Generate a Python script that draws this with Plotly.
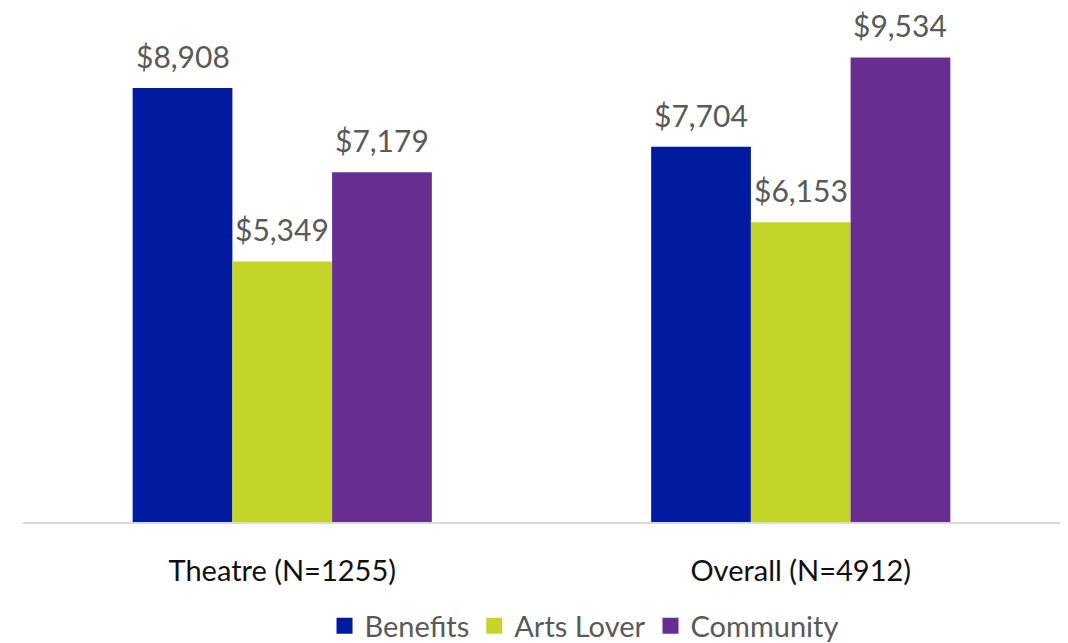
import plotly.graph_objects as go

# ----- Data -----
groups = ["Theatre (N=1255)", "Overall (N=4912)"]
series_names = ["Benefits", "Arts Lover", "Community"]
benefits = [8908, 7704]
arts_lover = [5349, 6153]
community = [7179, 9534]
colors = ["#001AA0", "#C4D52A", "#682D91"]

FONT = "Lato, 'Open Sans', sans-serif"
BARGAP = 0.423
# page has an 8px body margin, so the figure is drawn slightly smaller
W, H = 1052, 635

fig = go.Figure()
all_vals = [benefits, arts_lover, community]
bar_w = (1 - BARGAP) / len(series_names)
for k, (name, vals, col) in enumerate(zip(series_names, all_vals, colors)):
    fig.add_trace(go.Bar(
        x=groups, y=vals, name=name, marker_color=col, marker_line_width=0,
        showlegend=False, hoverinfo="x+y",
    ))
    # legend entry with a bigger square
    fig.add_trace(go.Scatter(
        x=[None], y=[None], mode="markers", name=name,
        marker=dict(symbol="square", size=16, color=col),
    ))
    off = (k - 1) * bar_w
    for i, v in enumerate(vals):
        fig.add_annotation(
            x=i + off, y=v, text=f"${v:,}", showarrow=False,
            xanchor="center", yanchor="bottom", yshift=12,
            font=dict(size=30, color="#595959", family=FONT),
        )

fig.update_layout(
    width=W, height=H,
    margin=dict(l=15, r=0, t=0, b=H - 514),
    paper_bgcolor="white", plot_bgcolor="white",
    barmode="group", bargap=BARGAP, bargroupgap=0,
    font=dict(family=FONT),
    legend=dict(orientation="h", x=0.541, xanchor="center",
                yref="container", y=1 - 618 / H, yanchor="middle",
                font=dict(size=29, color="#595959"), itemsizing="trace",
                tracegroupgap=0),
    xaxis=dict(showline=True, linecolor="#D9D9D9", linewidth=2, ticks="",
               tickfont=dict(size=29, color="#111111"), ticklabelstandoff=22),
    yaxis=dict(range=[0, 10550], visible=False, showgrid=False, zeroline=False),
)

fig.write_html("out.html")
